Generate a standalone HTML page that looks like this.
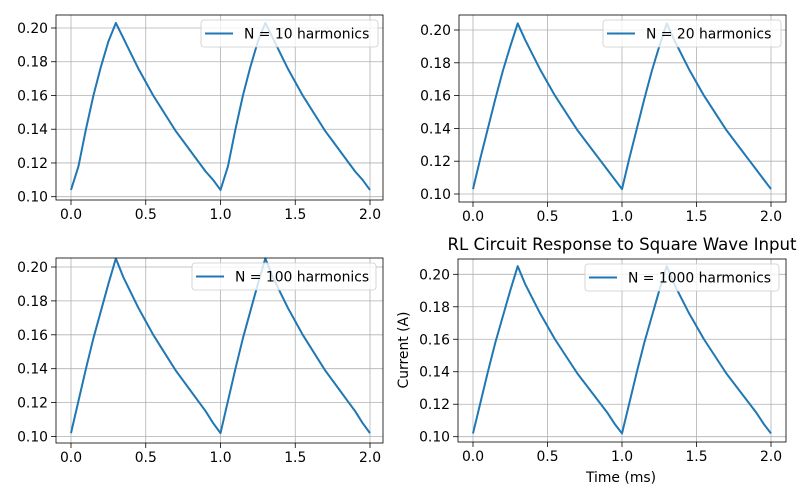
<!DOCTYPE html>
<html><head><meta charset="utf-8"><style>
body{margin:0;background:#fff;}
svg{display:block;font-family:"DejaVu Sans","Liberation Sans",sans-serif;}
</style></head><body>
<svg id="chart" width="800" height="500" viewBox="0 0 800 500"></svg>
<script>
const times = [0,0.05,0.1,0.15,0.2,0.25,0.3,0.35,0.4,0.45,0.5,0.55,0.6,0.65,0.7,0.75,0.8,0.85,0.9,0.95,1.0,1.05,1.1,1.15,1.2,1.25,1.3,1.35,1.4,1.45,1.5,1.55,1.6,1.65,1.7,1.75,1.8,1.85,1.9,1.95,2.0];
const series10 = [0.104,0.118,0.140,0.160,0.177,0.192,0.203,0.194,0.185,0.176,0.168,0.160,0.153,0.146,0.139,0.133,0.127,0.121,0.115,0.110,0.104,0.118,0.140,0.160,0.177,0.192,0.203,0.194,0.185,0.176,0.168,0.160,0.153,0.146,0.139,0.133,0.127,0.121,0.115,0.110,0.104];
const series20 = [0.103,0.122,0.140,0.158,0.175,0.190,0.204,0.194,0.185,0.176,0.168,0.160,0.153,0.146,0.139,0.133,0.127,0.121,0.115,0.109,0.103,0.122,0.140,0.158,0.175,0.190,0.204,0.194,0.185,0.176,0.168,0.160,0.153,0.146,0.139,0.133,0.127,0.121,0.115,0.109,0.103];
const series100 = [0.102,0.121,0.140,0.158,0.174,0.190,0.205,0.194,0.185,0.176,0.168,0.160,0.153,0.146,0.139,0.133,0.127,0.121,0.115,0.108,0.102,0.121,0.140,0.158,0.174,0.190,0.205,0.194,0.185,0.176,0.168,0.160,0.153,0.146,0.139,0.133,0.127,0.121,0.115,0.108,0.102];
const series1000 = [0.102,0.121,0.140,0.158,0.174,0.190,0.205,0.194,0.185,0.176,0.168,0.160,0.153,0.146,0.139,0.133,0.127,0.121,0.115,0.108,0.102,0.121,0.140,0.158,0.174,0.190,0.205,0.194,0.185,0.176,0.168,0.160,0.153,0.146,0.139,0.133,0.127,0.121,0.115,0.108,0.102];
const xTicks = [0,0.5,1.0,1.5,2.0];
const xTickLabels = ["0.0","0.5","1.0","1.5","2.0"];
const yTicks = [0.10,0.12,0.14,0.16,0.18,0.20];
const yTickLabels = ["0.10","0.12","0.14","0.16","0.18","0.20"];
const legendLabels = ["N = 10 harmonics","N = 20 harmonics","N = 100 harmonics","N = 1000 harmonics"];

const NS="http://www.w3.org/2000/svg";
const svg=document.getElementById('chart');
function mk(tag,attrs,parent){const e=document.createElementNS(NS,tag);for(const k in attrs)e.setAttribute(k,attrs[k]);(parent||svg).appendChild(e);return e;}
const FS=13.9;
const panels=[
 {name:'n10',data:series10,box:[56,15,383,200],xp:[71,370],yp:[196.7,28],leg:[201,20,378,47]},
 {name:'n20',data:series20,box:[459,15,786,202],xp:[473,771],yp:[194,30],leg:[603,20,781,47]},
 {name:'n100',data:series100,box:[56,258,383,443],xp:[71,370],yp:[436.5,267],leg:[192,263,376,290]},
 {name:'n1000',data:series1000,box:[458,259,786,442],xp:[473,771],yp:[436.7,274.3],leg:[585,264,779,291]}
];
panels.forEach((p,i)=>{
  const g=mk('g',{});
  
  
  const [l,t,r,b]=p.box;
  const sx=v=>p.xp[0]+(p.xp[1]-p.xp[0])*v/2;
  const sy=v=>p.yp[0]+(p.yp[1]-p.yp[0])*(v-0.10)/0.10;
  xTicks.forEach((v,k)=>{
    const x=sx(v);
    const gl=mk('line',{x1:x,x2:x,y1:t,y2:b,stroke:'#b0b0b0','stroke-width':0.8},g);
    
    mk('line',{x1:x,x2:x,y1:b,y2:b+5,stroke:'#000','stroke-width':0.8},g);
    const tx=mk('text',{x:x,y:b+19,'text-anchor':'middle','font-size':FS,fill:'#000'},g);
    tx.textContent=xTickLabels[k];
    
  });
  yTicks.forEach((v,k)=>{
    const y=sy(v);
    const gl=mk('line',{x1:l,x2:r,y1:y,y2:y,stroke:'#b0b0b0','stroke-width':0.8},g);
    
    mk('line',{x1:l-5,x2:l,y1:y,y2:y,stroke:'#000','stroke-width':0.8},g);
    const tx=mk('text',{x:l-8,y:y+5,'text-anchor':'end','font-size':FS,fill:'#000'},g);
    tx.textContent=yTickLabels[k];
    
  });
  const pts=times.map((tv,k)=>sx(tv).toFixed(2)+','+sy(p.data[k]).toFixed(2)).join(' ');
  const line=mk('polyline',{points:pts,fill:'none',stroke:'#1f77b4','stroke-width':2,'stroke-linejoin':'round'},g);
  
  const fr=mk('rect',{x:l,y:t,width:r-l,height:b-t,fill:'none',stroke:'#000','stroke-width':0.8},g);
  
  const [lx,ly,rx,ry]=p.leg;
  const lg=mk('g',{},g);
  
  mk('rect',{x:lx,y:ly,width:rx-lx,height:ry-ly,rx:3,fill:'#fff','fill-opacity':0.8,stroke:'#ccc','stroke-width':0.8},lg);
  mk('line',{x1:lx+4,x2:lx+32,y1:(ly+ry)/2,y2:(ly+ry)/2,stroke:'#1f77b4','stroke-width':2},lg);
  const lt=mk('text',{x:lx+43,y:(ly+ry)/2+5,'font-size':FS,fill:'#000'},lg);
  lt.textContent=legendLabels[i];
  
});
const title=mk('text',{x:622,y:250,'text-anchor':'middle','font-size':16.6,fill:'#000'});
title.textContent='RL Circuit Response to Square Wave Input';

const xl=mk('text',{x:621,y:482,'text-anchor':'middle','font-size':FS,fill:'#000'});
xl.textContent='Time (ms)';

const yl=mk('text',{x:0,y:0,'text-anchor':'middle','font-size':FS,fill:'#000',transform:'translate(408,350) rotate(-90)'});
yl.textContent='Current (A)';

</script>
</body></html>
